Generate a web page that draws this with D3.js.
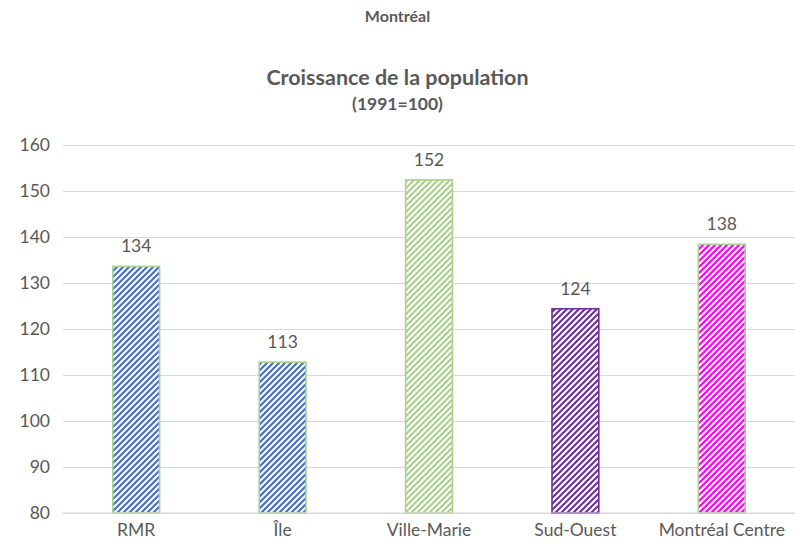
<!DOCTYPE html>
<html>
<head>
<meta charset="utf-8">
<script src="https://cdn.jsdelivr.net/npm/d3@7"></script>
<style>
  html, body { margin: 0; padding: 0; background: #fff; }
  svg { display: block; font-family: "Lato", "Open Sans", sans-serif; }
</style>
</head>
<body>
<svg id="chart" width="795" height="552"></svg>
<script>
const categories = ["RMR", "Île", "Ville-Marie", "Sud-Ouest", "Montréal Centre"];
const values = [133.6, 112.8, 152.4, 124.4, 138.4];
const fillColors = ["#4472c4", "#4472c4", "#a9d18e", "#7030a0", "#ff00ff"];
const borderColors = ["#a9d18e", "#a9d18e", "#a9d18e", "#7030a0", "#a9d18e"];
const yTicks = [80, 90, 100, 110, 120, 130, 140, 150, 160];
const title1 = "Montréal";
const title2 = "Croissance de la population";
const title3 = "(1991=100)";

const svg = d3.select("#chart");
const W = 795, H = 552;
const margin = { left: 63, right: 0, top: 145, bottom: 39 };

const x = d3.scaleBand().domain(categories).range([margin.left, W - margin.right]).paddingInner(0.67).paddingOuter(0.335);
const y = d3.scaleLinear().domain([80, 160]).range([H - margin.bottom, margin.top]);

// patterns
const defs = svg.append("defs");
categories.forEach((c, i) => {
  const p = defs.append("pattern")
    .attr("id", "pat" + i)
    .attr("patternUnits", "userSpaceOnUse")
    .attr("width", 6).attr("height", 6);
  p.append("rect").attr("width", 6).attr("height", 6).attr("fill", "#fff");
  p.append("path")
    .attr("d", "M-1,1 l2,-2 M0,6 l6,-6 M5,7 l2,-2")
    .attr("stroke", fillColors[i])
    .attr("stroke-width", 2.2);
});

// titles
svg.append("text").attr("x", W / 2).attr("y", 22).attr("text-anchor", "middle")
  .attr("font-size", 16).attr("font-weight", "bold").attr("fill", "#595959").text(title1);
svg.append("text").attr("x", W / 2).attr("y", 85).attr("text-anchor", "middle")
  .attr("font-size", 21.5).attr("font-weight", "bold").attr("fill", "#595959").text(title2);
svg.append("text").attr("x", W / 2).attr("y", 110).attr("text-anchor", "middle")
  .attr("font-size", 17.5).attr("font-weight", "bold").attr("fill", "#595959").text(title3);

// gridlines
const yAxis = d3.axisLeft(y).tickValues(yTicks).tickSize(-(W - margin.left - margin.right)).tickPadding(13);
const gy = svg.append("g").attr("transform", `translate(${margin.left},0)`).call(yAxis);
gy.select(".domain").remove();
gy.selectAll(".tick line").attr("stroke", "#d9d9d9").attr("stroke-width", 1);
gy.selectAll(".tick text").attr("fill", "#595959").attr("font-size", 17.5).style("font-family", "Lato, 'Open Sans', sans-serif");

// bars
const data = categories.map((c, i) => ({ c, v: values[i], i }));
svg.append("g").selectAll("rect").data(data).join("rect")
  .attr("x", d => x(d.c) + 0.75)
  .attr("y", d => y(d.v))
  .attr("width", x.bandwidth() - 1.5)
  .attr("height", d => y(80) - y(d.v))
  .attr("fill", d => `url(#pat${d.i})`)
  .attr("stroke", d => borderColors[d.i])
  .attr("stroke-width", 1.6);

// baseline
svg.append("line").attr("x1", margin.left).attr("x2", W - margin.right)
  .attr("y1", y(80)).attr("y2", y(80)).attr("stroke", "#d9d9d9").attr("stroke-width", 1);

// data labels
const fmt = d3.format(".0f");
svg.append("g").selectAll("text").data(data).join("text")
  .attr("x", d => x(d.c) + x.bandwidth() / 2)
  .attr("y", d => y(d.v) - 14)
  .attr("text-anchor", "middle")
  .attr("font-size", 17.5).attr("fill", "#595959")
  .text(d => fmt(d.v));

// x axis labels
const xAxis = d3.axisBottom(x).tickSize(0).tickPadding(11);
const gx = svg.append("g").attr("transform", `translate(0,${y(80)})`).call(xAxis);
gx.select(".domain").remove();
gx.selectAll(".tick text").attr("fill", "#595959").attr("font-size", 17.5).style("font-family", "Lato, 'Open Sans', sans-serif");
</script>
</body>
</html>
